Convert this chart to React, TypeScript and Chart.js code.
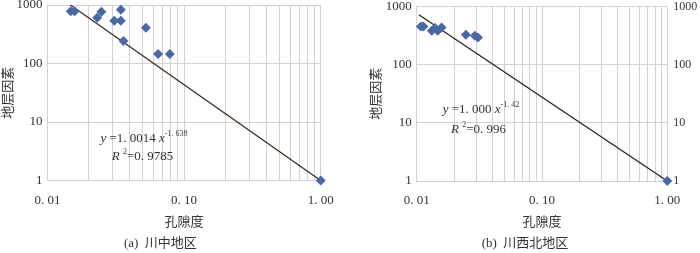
import React, { useEffect, useRef } from 'react';
import { Chart, registerables } from 'chart.js';

Chart.register(...registerables);

// ---------- data ----------
const leftPorosity = [0.0148, 0.0158, 0.0231, 0.0248, 0.0308, 0.0344, 0.0344, 0.036, 0.0525, 0.0645, 0.0786, 1.0];
const leftFactor = [780, 780, 607, 768, 539, 539, 831, 242, 409, 145, 145, 1];
const leftTrendX = [0.0147, 1.0];
const leftTrendY = [1000, 1];

const rightPorosity = [0.0108, 0.0113, 0.0132, 0.014, 0.0147, 0.0158, 0.0247, 0.0291, 0.0308, 1.0];
const rightFactor = [453, 453, 382, 425, 382, 435, 326, 313, 292, 1];
const rightTrendX = [0.0104, 1.0];
const rightTrendY = [720, 1];

const xGridValues = [
  0.01, 0.02, 0.03, 0.04, 0.05, 0.06, 0.07, 0.08, 0.09,
  0.1, 0.2, 0.3, 0.4, 0.5, 0.6, 0.7, 0.8, 0.9, 1,
];
const xMajorValues = [0.01, 0.1, 1];
const xTickLabels = ['0. 01', '0. 10', '1. 00'];
const yTickValues = [1, 10, 100, 1000];
const yTickLabels = ['1', '10', '100', '1000'];

const xTitle = '孔隙度';
const yTitle = '地层因素';
const leftCaption = '(a)  川中地区';
const rightCaption = '(b)  川西北地区';

const leftEqCoef = '1. 0014';
const leftEqExp = '-1. 638';
const leftR2 = '0. 9785';
const rightEqCoef = '1. 000';
const rightEqExp = '-1. 42';
const rightR2 = '0. 996';

// ---------- style ----------
const FONT = "'Liberation Serif', 'Noto Sans CJK SC', serif";
const GRID = '#d2d2d2';
const POINT = '#4a69a3';
const TEXT = '#333333';

const eqPlugin = {
  id: 'eqn',
  afterDatasetsDraw(chart: any, _args: any, opts: any) {
    if (!opts || !opts.lines) return;
    const ctx = chart.ctx;
    ctx.save();
    ctx.fillStyle = TEXT;
    ctx.textBaseline = 'middle';
    ctx.textAlign = 'left';
    for (const line of opts.lines) {
      let w = 0;
      const parts = line.parts.map((p: any) => {
        const size = p.sup ? 8 : 13;
        const f = `${p.it ? 'italic ' : ''}${size}px ${FONT}`;
        ctx.font = f;
        const pw = ctx.measureText(p.t).width;
        w += pw;
        return { t: p.t, sup: p.sup, f, pw };
      });
      let x = line.cx - w / 2;
      for (const p of parts) {
        ctx.font = p.f;
        ctx.fillText(p.t, x, line.y + (p.sup ? -5 : 0));
        x += p.pw;
      }
    }
    ctx.restore();
  },
};

function eqLines(coef: string, exp: string, r2: string, cx1: number, y1: number, cx2: number, y2: number) {
  return [
    {
      cx: cx1,
      y: y1,
      parts: [
        { t: 'y', it: true },
        { t: ' =' + coef + ' ' },
        { t: 'x', it: true },
        { t: exp, sup: true },
      ],
    },
    {
      cx: cx2,
      y: y2,
      parts: [
        { t: 'R', it: true },
        { t: ' ' },
        { t: '2', sup: true },
        { t: '=' + r2 },
      ],
    },
  ];
}

function buildConfig(p: any) {
  const tickFont = { family: FONT, size: 13 };
  const scales: any = {
    x: {
      type: 'logarithmic',
      position: 'bottom',
      min: 0.01,
      max: 1,
      afterBuildTicks: (s: any) => {
        s.ticks = xGridValues.map((v) => ({ value: v }));
      },
      afterFit: (s: any) => {
        s.height = p.xAxisH;
        s.paddingLeft = 0;
        s.paddingRight = 0;
      },
      grid: { color: GRID, drawTicks: false, lineWidth: 1 },
      border: { color: GRID },
      ticks: {
        autoSkip: false,
        maxRotation: 0,
        minRotation: 0,
        padding: 12,
        color: TEXT,
        font: tickFont,
        callback: (v: any) => {
          const i = xMajorValues.indexOf(v);
          return i >= 0 ? xTickLabels[i] : '';
        },
      },
      title: {
        display: true,
        text: xTitle,
        color: TEXT,
        font: { family: FONT, size: 13 },
        padding: { top: 0, bottom: 5 },
      },
    },
    y: {
      type: 'logarithmic',
      position: 'left',
      min: 1,
      max: 1000,
      afterBuildTicks: (s: any) => {
        s.ticks = yTickValues.map((v) => ({ value: v }));
      },
      afterFit: (s: any) => {
        s.width = p.yAxisW;
        s.paddingTop = 0;
        s.paddingBottom = 0;
      },
      grid: { color: GRID, drawTicks: false, lineWidth: 1 },
      border: { color: GRID },
      ticks: {
        autoSkip: false,
        padding: 5,
        color: TEXT,
        font: tickFont,
        callback: (_v: any, i: number) => yTickLabels[i],
      },
      title: {
        display: true,
        text: yTitle,
        color: TEXT,
        font: { family: FONT, size: 13 },
        padding: { top: p.yTitlePad, bottom: 0 },
      },
    },
  };
  if (p.rightAxis) {
    scales.y2 = {
      type: 'logarithmic',
      position: 'right',
      min: 1,
      max: 1000,
      afterBuildTicks: (s: any) => {
        s.ticks = yTickValues.map((v) => ({ value: v }));
      },
      afterFit: (s: any) => {
        s.width = p.y2AxisW;
        s.paddingTop = 0;
        s.paddingBottom = 0;
      },
      grid: { display: false, drawTicks: false },
      border: { display: false },
      ticks: {
        autoSkip: false,
        padding: 6,
        color: TEXT,
        font: { family: FONT, size: 12 },
        callback: (_v: any, i: number) => yTickLabels[i],
      },
    };
  }
  return {
    type: 'scatter',
    data: {
      datasets: [
        {
          data: p.xs.map((x: number, i: number) => ({ x, y: p.ys[i] })),
          pointStyle: 'rectRot',
          pointRadius: 5,
          pointBackgroundColor: POINT,
          pointBorderColor: POINT,
          pointBorderWidth: 0,
          showLine: false,
          clip: false,
        },
        {
          data: p.tx.map((x: number, i: number) => ({ x, y: p.ty[i] })),
          showLine: true,
          borderColor: p.lineColor,
          borderWidth: 1.3,
          pointRadius: 0,
          fill: false,
          clip: false,
        },
      ],
    },
    options: {
      responsive: false,
      animation: false,
      events: [],
      layout: { padding: { top: p.padTop, right: p.padRight, left: 0, bottom: 0 } },
      plugins: {
        legend: { display: false },
        tooltip: { enabled: false },
        title: {
          display: true,
          position: 'bottom',
          text: p.caption,
          color: TEXT,
          font: { family: FONT, size: 13, weight: 'normal' },
          padding: { top: 0, bottom: 2 },
        },
        eqn: { lines: p.eq },
      },
      scales,
    },
    plugins: [eqPlugin],
  };
}

function ChartCanvas({ config, left }: { config: any; left: number }) {
  const ref = useRef<HTMLCanvasElement | null>(null);
  useEffect(() => {
    if (!ref.current) return;
    const chart = new Chart(ref.current, config);
    return () => chart.destroy();
  }, [config]);
  return (
    <canvas
      ref={ref}
      width={350}
      height={253}
      style={{ position: 'absolute', left, top: 0, width: 350, height: 253, display: 'block' }}
    />
  );
}

const leftConfig = buildConfig({
  xs: leftPorosity,
  ys: leftFactor,
  tx: leftTrendX,
  ty: leftTrendY,
  lineColor: '#3b2a1c',
  caption: leftCaption,
  padTop: 5,
  padRight: 29.3,
  xAxisH: 54.9,
  yAxisW: 47.5,
  yTitlePad: 1,
  rightAxis: false,
  eq: eqLines(leftEqCoef, leftEqExp, leftR2, 144, 139, 142.5, 157),
});

const rightConfig = buildConfig({
  xs: rightPorosity,
  ys: rightFactor,
  tx: rightTrendX,
  ty: rightTrendY,
  lineColor: '#222222',
  caption: rightCaption,
  padTop: 6.5,
  padRight: 0,
  xAxisH: 54.4,
  yAxisW: 66.7,
  y2AxisW: 32.7,
  yTitlePad: 19,
  rightAxis: true,
  eq: eqLines(rightEqCoef, rightEqExp, rightR2, 131, 110, 128.5, 130),
});

export default function App() {
  return (
    <div
      style={{
        position: 'fixed',
        left: 0,
        top: 0,
        width: 700,
        height: 253,
        background: '#ffffff',
        overflow: 'hidden',
      }}
    >
      <ChartCanvas config={leftConfig} left={0} />
      <ChartCanvas config={rightConfig} left={350} />
    </div>
  );
}
